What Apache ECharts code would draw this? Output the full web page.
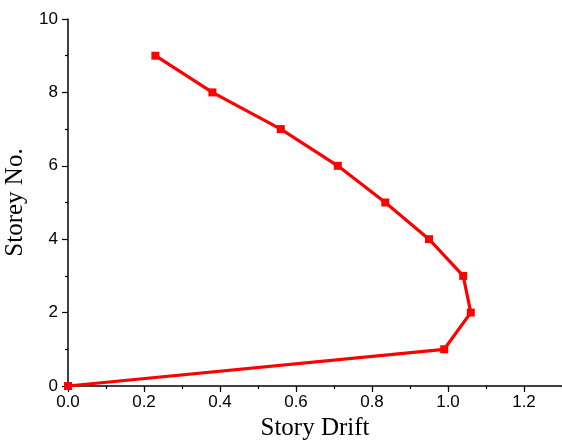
<!DOCTYPE html>
<html>
<head>
<meta charset="utf-8">
<script src="https://cdn.jsdelivr.net/npm/echarts@6/dist/echarts.min.js"></script>
<style>
  html, body { margin: 0; padding: 0; background: #fff; }
  #chart { width: 562px; height: 442px; }
</style>
</head>
<body>
<div id="chart"></div>
<script>
var storey = [0, 1, 2, 3, 4, 5, 6, 7, 8, 9];
var drift = [0, 0.99, 1.06, 1.04, 0.95, 0.835, 0.71, 0.56, 0.38, 0.23];
var xTicks = [0, 0.2, 0.4, 0.6, 0.8, 1.0, 1.2];

var points = [];
storey.forEach(function (s, i) {
    points.push([drift[i], s]);
});

var myChart = echarts.init(document.getElementById('chart'));

var option = {
    animation: false,
    grid: { left: 68, right: 0, top: 19, bottom: 56, outerBoundsMode: 'none', containLabel: false },
    xAxis: [
        {
            type: 'value',
            min: 0,
            max: 1.3,
            interval: 0.2,
            name: 'Story Drift',
            nameLocation: 'middle',
            nameGap: 30,
            nameTextStyle: { fontFamily: 'Liberation Serif', fontSize: 25, color: '#000' },
            axisLine: { show: true, lineStyle: { color: '#000', width: 1.5 } },
            axisTick: { show: true, length: 6, customValues: xTicks, lineStyle: { color: '#000', width: 1.2 } },
            axisLabel: {
                customValues: xTicks,
                margin: 8,
                fontFamily: 'Liberation Sans',
                fontSize: 17,
                color: '#000',
                formatter: function (v) { return v.toFixed(1); }
            },
            splitLine: { show: false }
        },
        {
            // minor ticks only
            type: 'value',
            position: 'bottom',
            min: 0,
            max: 1.3,
            interval: 0.1,
            axisLine: { show: false },
            axisTick: { show: true, length: 3, lineStyle: { color: '#000', width: 1.2 } },
            axisLabel: { show: false },
            splitLine: { show: false }
        }
    ],
    yAxis: {
        type: 'value',
        min: 0,
        max: 10,
        interval: 2,
        name: 'Storey No.',
        nameLocation: 'middle',
        nameGap: 32,
        nameTextStyle: { fontFamily: 'Liberation Serif', fontSize: 25, color: '#000' },
        axisLine: { show: true, lineStyle: { color: '#000', width: 1.5 } },
        axisTick: { show: true, length: 6, lineStyle: { color: '#000', width: 1.2 } },
        minorTick: { show: true, splitNumber: 2, length: 3, lineStyle: { color: '#000', width: 1.2 } },
        axisLabel: {
            margin: 10,
            fontFamily: 'Liberation Sans',
            fontSize: 17,
            color: '#000'
        },
        splitLine: { show: false }
    },
    series: [
        {
            type: 'line',
            xAxisIndex: 0,
            data: points,
            symbol: 'rect',
            symbolSize: 8,
            lineStyle: { color: '#ff0000', width: 3.2 },
            itemStyle: { color: '#ff0000' }
        }
    ]
};

myChart.setOption(option);
</script>
</body>
</html>
